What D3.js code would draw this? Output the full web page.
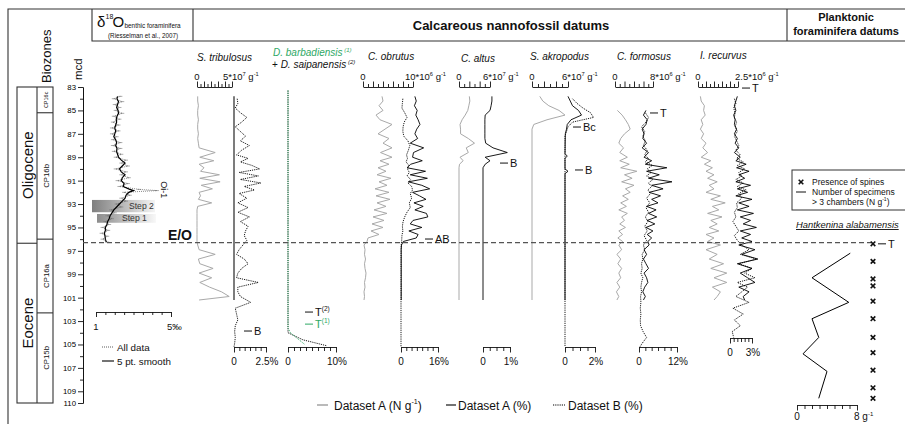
<!DOCTYPE html>
<html lang="en">
<head>
<meta charset="utf-8">
<style>
  body { margin: 0; background: #fff; }
  svg { display: block; background: #fff; }
  .frame { stroke: #333; stroke-width: 1.1; fill: none; }
  .gray { stroke: #a9a9a9; stroke-width: 1; fill: none; }
  .black { stroke: #000; stroke-width: 0.9; fill: none; }
  .dotted { stroke: #000; stroke-width: 0.9; stroke-dasharray: 1.2,1; fill: none; }
  .axis path, .axis line { stroke: #111; stroke-width: 0.9; }
</style>
</head>
<body>
<script src="https://d3js.org/d3.v7.min.js"></script>
<svg id="chart" width="905" height="424"></svg>
<script>
// ---------------- data ----------------
var depthTicks = [83, 85, 87, 89, 91, 93, 95, 97, 99, 101, 103, 105, 107, 109, 110];
var depthMinor = [84, 86, 88, 90, 92, 94, 96, 98, 100, 102, 104, 106, 108];

var epochs = ["Oligocene", "Eocene"];
var epochBounds = [83, 96.35, 110];
var zones = ["CP16c", "CP16b", "CP16a", "CP15b"];
var zoneBounds = [83, 85.2, 96.0, 102.3, 110];
var eoDepth = 96.3;

var stepNames = ["Step 2", "Step 1"];
var stepTop = [92.65, 93.85];
var stepBottom = [93.7, 94.6];

// benthic foraminifera d18O (permil)
var d18Depth = [83.8, 84.0, 84.25, 84.5, 84.75, 85.0, 85.25, 85.5, 85.75, 86.0, 86.25, 86.5, 86.75,
  87.0, 87.25, 87.5, 87.75, 88.0, 88.25, 88.5, 88.75, 89.0, 89.25, 89.5, 89.75, 90.0,
  90.25, 90.5, 90.75, 91.0, 91.25, 91.5, 91.75, 91.85, 92.0, 92.25, 92.5, 92.75, 93.0,
  93.25, 93.5, 93.75, 94.0, 94.25, 94.5, 94.75, 95.0, 95.25, 95.5, 95.75, 96.0, 96.25];
var d18All = [2.3, 1.95, 2.4, 2.0, 2.25, 2.05, 2.4, 1.95, 2.25, 1.9, 2.2, 1.85, 2.2,
  1.85, 2.1, 1.9, 2.3, 1.9, 2.3, 1.95, 2.35, 2.05, 2.6, 2.35, 2.7, 2.05,
  2.6, 2.35, 2.75, 2.15, 2.7, 2.25, 3.3, 4.25, 2.5, 2.8, 2.35, 2.6, 2.1,
  2.35, 1.8, 2.0, 1.6, 1.85, 1.5, 1.7, 1.35, 1.65, 1.3, 1.6, 1.35, 1.6];
var d18Smooth = [2.15, 2.12, 2.2, 2.15, 2.1, 2.18, 2.2, 2.12, 2.08, 2.1, 2.05, 2.0, 2.05,
  2.0, 1.95, 2.05, 2.1, 2.05, 2.12, 2.1, 2.15, 2.2, 2.35, 2.55, 2.4, 2.25,
  2.35, 2.55, 2.4, 2.35, 2.5, 2.45, 2.8, 3.0, 2.75, 2.6, 2.55, 2.4, 2.25,
  2.1, 1.95, 1.85, 1.75, 1.7, 1.62, 1.58, 1.5, 1.5, 1.45, 1.48, 1.5, 1.55];

// nannofossil sample depths (mcd)
var depthA = [83.8, 84.2, 84.6, 85.0, 85.4, 85.8, 86.2, 86.6, 87.0, 87.4, 87.8, 88.2, 88.6,
  89.0, 89.3, 89.6, 89.9, 90.2, 90.5, 90.8, 91.1, 91.4, 91.7, 92.0, 92.3, 92.6, 92.9, 93.2, 93.5,
  93.8, 94.1, 94.4, 94.7, 95.0, 95.3, 95.6, 95.9, 96.2,
  96.5, 96.9, 97.3, 97.7, 98.1, 98.5, 98.9, 99.3, 99.7, 100.1, 100.5, 100.9, 101.2];
var depthB = [84.0, 84.4, 84.8, 85.2, 85.6, 86.0, 86.4, 86.8, 87.2, 87.6, 88.0, 88.4, 88.8,
  89.1, 89.4, 89.7, 90.0, 90.3, 90.6, 90.9, 91.2, 91.5, 91.8,
  92.1, 92.5, 92.9, 93.3, 93.7, 94.1, 94.5, 94.9, 95.3, 95.7, 96.1, 96.5, 96.9, 97.3, 97.7,
  98.1, 98.5, 98.9, 99.3, 99.7, 100.1, 100.5, 100.9,
  101.4, 101.9, 102.4, 102.9, 103.4, 103.9, 104.4, 104.9, 105.2];

var species = ["S. tribulosus", "C. obrutus", "C. altus", "S. akropodus", "C. formosus", "I. recurvus"];
var topMax = [5, 10, 6, 6, 8, 2.5];          // N g-1 scale end
var topUnit = ["5*10", "10*10", "6*10", "6*10", "8*10", "2.5*10"];
var topExp = ["7", "6", "7", "7", "6", "6"];
var pctMax = [2.5, 16, 1, 2, 12, 3];          // % scale end
var pctLabel = ["2.5%", "16%", "1%", "2%", "12%", "3%"];

// S. tribulosus
var tribGray = [0.1, 0.1, 0.2, 0.1, 0.1, 0.2, 0.1, 0.1, 0.2, 0.1, 0.2, 0.3, 2.6,
  0.4, 2.4, 0.3, 1.0, 0.5, 3.2, 0.4, 3.3, 0.6, 2.2, 0.3, 0.5, 0.2, 2.1, 0.1, 0,
  0, 0, 0, 0, 0, 0, 0, 0, 0,
  0.1, 0.3, 2.6, 0.2, 0.4, 2.3, 0.3, 2.1, 0.4, 1.8, 3.5, 4.6, 0.3];
var tribPctDepth = [83.8, 101.2];
var tribPct = [0, 0];
var tribB = [0.25, 0.3, 0.1, 0.5, 1.0, 0.6, 0.1, 0.5, 0.9, 0.5, 1.2, 0.6, 0.2,
  1.1, 0.5, 1.4, 2.0, 0.4, 1.9, 0.5, 2.1, 0.8, 1.6,
  0.4, 1.0, 0.3, 1.1, 0.3, 1.2, 0.5, 1.1, 0.9, 0.8, 1.0, 0.7, 0.4, 0.2, 0.8,
  1.1, 0.6, 0.3, 0.2, 1.9, 0.3, 0.3, 0.5,
  1.3, 0.1, 0.2, 0.3, 0.1, 0.05, 0.1, 0.05, 0];

// D. barbadiensis / D. saipanensis (%)
var barbDepth = [83.3, 103.6, 104.0, 104.5, 105.0];
var barbPct = [0, 0, 0.5, 2.0, 3.5];
var saipDepth = [83.3, 104.0, 104.6, 105.1];
var saipPct = [0, 0, 3.1, 8.0];

// C. obrutus
var obruGray = [3.8, 4.0, 3.2, 4.0, 2.6, 3.4, 5.8, 4.4, 3.0, 5.2, 4.0, 5.8, 3.5,
  5.8, 3.4, 5.2, 3.0, 4.6, 2.8, 5.6, 3.2, 4.8, 2.4, 5.2, 2.6, 5.4, 2.8, 4.6, 2.2,
  4.8, 2.0, 4.2, 1.8, 4.0, 1.6, 3.2, 1.0, 0.8,
  0.2, 0.4, 0.3, 0.5, 0.3, 0.4, 0.6, 0.5, 0.3, 0.4, 0.2, 0.3, 0.2];
var obruPct = [6.0, 6.6, 5.8, 7.0, 6.4, 7.4, 8.2, 6.8, 6.0, 7.2, 4.0, 9.8, 5.4,
  5.0, 9.2, 4.2, 2.6, 10.6, 4.0, 11.4, 3.2, 9.0, 12.4, 5.0, 8.0, 10.8, 5.6, 9.6, 6.0,
  11.0, 11.6, 5.2, 4.0, 9.0, 3.4, 7.4, 6.6, 1.0,
  0.2, 0.1, 0.1, 0.1, 0.1, 0.1, 0.1, 0.1, 0.1, 0.1, 0.1, 0.1, 0.1];
var obruB = [0.8, 0.6, 0.4, 1.6, 2.6, 1.4, 0.9, 0.8, 1.2, 3.0, 3.8, 3.2, 2.4,
  2.8, 2.2, 3.4, 2.8, 3.6, 2.6, 4.2, 3.0, 4.6, 5.0,
  4.0, 4.6, 3.6, 4.0, 2.6, 1.6, 0.9, 0.6, 0.8, 0.4, 0.3, 0.1, 0, 0, 0,
  0, 0, 0, 0, 0, 0, 0, 0,
  0, 0, 0, 0, 0, 0, 0, 0, 0];

// C. altus
var altusDepth = [83.8, 84.2, 84.6, 85.0, 85.4, 85.8, 86.2, 86.6, 87.0, 87.4, 87.8, 88.2, 88.6,
  89.0, 89.3, 89.6, 89.9, 101.2];
var altusGray = [2.0, 2.1, 1.9, 1.7, 1.2, 0.6, 0.2, 0.3, 0.3, 1.8, 3.0, 1.4, 1.8,
  0.2, 0.8, 0.1, 0, 0];
var altusPct = [0.33, 0.33, 0.3, 0.26, 0.08, 0.07, 0.07, 0.07, 0.07, 0.07, 0.1, 0.37, 0.9,
  0.08, 0.26, 0.08, 0, 0];

// S. akropodus
var akroGrayDepth = [83.8, 84.2, 84.6, 85.0, 85.4, 85.8, 86.2, 86.6, 101.2];
var akroGray = [1.3, 1.8, 2.8, 4.5, 5.5, 2.5, 0.3, 0, 0];
var akroPctDepth = [83.8, 84.2, 84.6, 85.0, 85.4, 85.8, 86.2, 86.6, 87.0, 88.7, 88.9, 89.1,
  90.0, 90.2, 90.4, 101.2];
var akroPct = [0.2, 0.35, 0.5, 0.9, 1.1, 0.4, 0.15, 0.1, 0.02, 0, 0.15, 0, 0, 0.2, 0, 0];
var akroBDepth = [84.0, 84.4, 84.8, 85.2, 85.6, 86.0, 86.4, 86.8, 87.2, 105.2];
var akroB = [0.5, 0.8, 1.2, 1.7, 1.9, 0.5, 0.2, 0.1, 0, 0];

// C. formosus
var formGray = [null, null, null, 0.5, 1.5, 2.2, 2.8, 3.2, 2.0, 1.2, 0.8, 1.8, 1.0,
  2.6, 1.0, 3.0, 1.2, 4.6, 2.0, 3.6, 1.4, 4.0, 2.2, 3.2, 1.6, 2.8, 1.2, 2.4, 0.8,
  2.6, 1.4, 2.0, 1.0, 2.2, 0.8, 1.6, 0.6, 1.6,
  0.8, 1.4, 0.4, 1.2, 0.6, 1.4, 0.8, 1.2, 0.4, 1.0, 0.3, 0.8, 0.4];
var formPct = [null, null, null, 2.2, 1.4, 2.6, 2.2, 1.0, 1.6, 1.2, 2.4, 1.0, 3.0,
  1.6, 4.0, 2.0, 8.8, 2.4, 6.4, 3.0, 10.4, 4.0, 7.6, 3.2, 6.8, 4.0, 6.0, 2.4, 5.4,
  3.0, 5.6, 2.6, 5.0, 2.2, 4.4, 2.6, 4.0, 2.8,
  3.2, 1.6, 2.4, 1.4, 2.2, 3.0, 1.6, 2.4, 2.8, 1.8, 1.2, 2.0, 1.4];
var formB = [null, null, null, 2.0, 3.0, 2.2, 0.8, 1.8, 1.2, 2.0, 1.4, 2.6, 1.8,
  3.0, 2.0, 4.2, 2.6, 3.8, 2.4, 4.4, 3.0, 4.0, 2.8,
  3.6, 2.4, 3.4, 2.2, 3.0, 2.0, 2.8, 1.8, 2.6, 1.6, 2.4, 1.4, 1.8, 1.0, 1.2,
  0.8, 1.0, 0.6, 1.2, 0.8, 0.6, 0.8, 0.5,
  0.6, 0.4, 0.6, 0.4, 0.5, 1.3, 2.4, 1.0, 0.3];

// I. recurvus
var recuGray = [0.15, 0.2, 0.4, 0.35, 0.45, 0.2, 0.3, 0.15, 0.35, 0.2, 0.5, 0.3, 0.6,
  0.2, 0.8, 0.4, 0.9, 0.5, 1.0, 0.6, 1.2, 0.7, 1.0, 0.5, 1.4, 0.8, 1.7, 0.9, 1.3,
  0.6, 1.5, 0.8, 1.2, 0.7, 1.3, 0.5, 1.0, 0.6,
  1.4, 0.5, 1.2, 0.7, 1.6, 0.8, 1.8, 1.0, 1.8, 0.9, 1.4, 1.2, 1.0];
var recuPct = [1.0, 0.8, 0.6, 0.8, 0.5, 0.7, 0.6, 0.9, 0.6, 1.0, 0.7, 1.2, 0.6,
  1.4, 0.8, 2.2, 0.9, 2.6, 1.2, 2.0, 0.8, 2.8, 1.0, 2.4, 0.8, 3.0, 1.2, 2.6, 1.0,
  3.2, 1.4, 2.8, 1.8, 3.6, 1.4, 2.8, 1.6, 3.0,
  1.2, 3.4, 1.6, 3.8, 1.0, 3.0, 1.4, 2.4, 3.4, 1.2, 2.6, 1.8, 2.0];
var recuB = [0.6, 0.8, 0.5, 0.7, 0.6, 0.9, 0.7, 1.0, 0.6, 0.9, 1.2, 0.8, 1.4,
  0.9, 1.8, 1.0, 2.0, 1.2, 1.6, 0.8, 1.8, 1.0, 2.2,
  1.2, 1.6, 0.9, 1.0, 0.6, 0.8, 0.4, 0.8, 1.2, 0.6, 1.0, 1.6, 2.6, 1.4, 3.6,
  1.2, 3.0, 2.0, 3.4, 1.0, 2.4, 1.6, 0.8,
  2.6, 0.4, 1.8, 0.6, 1.4, 0.3, 0.5, null, null];

// Hantkenina alabamensis
var spineDepth = [96.4, 97.9, 99.4, 100.0, 101.3, 102.8, 104.4, 105.7, 107.2, 108.7, 109.6];
var hantDepth = [97.2, 99.3, 101.4, 102.8, 104.4, 105.8, 107.3, 109.6];
var hantCount = [7.1, 2.0, 6.9, 2.0, 2.9, 0.8, 4.0, 2.9];

// ---------------- drawing ----------------
var font = '"Liberation Sans", Arial, Helvetica, sans-serif';
var green = "#2ea865";
var svg = d3.select("#chart").attr("font-family", font).attr("fill", "#111");

var y = d3.scaleLinear().domain([83, 110]).range([87, 403]);

function rich(parent, x, yy, parts, size, anchor) {
  var t = parent.append("text").attr("x", x).attr("y", yy).attr("font-size", size)
    .attr("text-anchor", anchor || "start");
  var cur = 0;
  parts.forEach(function (p) {
    if (typeof p === "string") p = { t: p };
    var off = p.sup ? -size * 0.42 : 0;
    var s = t.append("tspan").attr("dy", off - cur).text(p.t);
    if (p.sup) s.attr("font-size", size * 0.6);
    if (p.it) s.attr("font-style", "italic");
    if (p.fill) s.attr("fill", p.fill);
    cur = off;
  });
  return t;
}

function pairs(depths, vals) {
  return depths.map(function (d, i) { return [d, vals[i]]; });
}

function lineFor(xs) {
  return d3.line()
    .defined(function (d) { return d[1] != null; })
    .x(function (d) { return xs(d[1]); })
    .y(function (d) { return y(d[0]); });
}

// frame and header
svg.append("path").attr("class", "frame")
  .attr("d", "M8,424V9H905 M92,9V41H905 M193,9V41 M787,9V41");

var hd = svg.append("g");
hd.append("text").attr("x", 97).attr("y", 27).attr("font-size", 15).text("δ");
hd.append("text").attr("x", 105.5).attr("y", 19).attr("font-size", 7).text("18");
hd.append("text").attr("x", 112.5).attr("y", 27).attr("font-size", 15).text("O");
hd.append("text").attr("x", 124.5).attr("y", 27.5).attr("font-size", 6.4).text("benthic foraminifera");
hd.append("text").attr("x", 143).attr("y", 37.5).attr("font-size", 6.3).attr("text-anchor", "middle")
  .text("(Riesselman et al., 2007)");
hd.append("text").attr("x", 511).attr("y", 30).attr("font-size", 13).attr("font-weight", "bold")
  .attr("text-anchor", "middle").text("Calcareous nannofossil datums");
hd.append("text").attr("x", 846).attr("y", 21).attr("font-size", 11).attr("font-weight", "bold")
  .attr("text-anchor", "middle").text("Planktonic");
hd.append("text").attr("x", 846).attr("y", 35).attr("font-size", 11).attr("font-weight", "bold")
  .attr("text-anchor", "middle").text("foraminifera datums");

// biozones
var bz = svg.append("g");
bz.append("rect").attr("class", "frame").attr("x", 17).attr("y", y(83))
  .attr("width", 36).attr("height", y(110) - y(83));
bz.append("line").attr("class", "frame").attr("x1", 37).attr("x2", 37).attr("y1", y(83)).attr("y2", y(110));
epochBounds.slice(1, -1).forEach(function (d) {
  bz.append("line").attr("class", "frame").attr("x1", 17).attr("x2", 37).attr("y1", y(d)).attr("y2", y(d));
});
zoneBounds.slice(1, -1).forEach(function (d) {
  bz.append("line").attr("class", "frame").attr("x1", 37).attr("x2", 53).attr("y1", y(d)).attr("y2", y(d));
});
epochs.forEach(function (e, i) {
  var c = (y(epochBounds[i]) + y(epochBounds[i + 1])) / 2;
  bz.append("text").attr("transform", "translate(33," + c + ") rotate(-90)")
    .attr("text-anchor", "middle").attr("font-size", 15).text(e);
});
zones.forEach(function (z, i) {
  var c = (y(zoneBounds[i]) + y(zoneBounds[i + 1])) / 2;
  var fs = i === 0 ? 5.5 : 7.8;
  bz.append("text").attr("transform", "translate(" + (i === 0 ? 47.5 : 48.5) + "," + c + ") rotate(-90)")
    .attr("text-anchor", "middle").attr("font-size", fs).text(z);
});
bz.append("text").attr("transform", "translate(51,83) rotate(-90)").attr("font-size", 13).text("Biozones");
bz.append("text").attr("transform", "translate(82,80) rotate(-90)").attr("font-size", 11.5).text("mcd");

// depth axis
var dax = svg.append("g").attr("class", "axis").attr("transform", "translate(83,0)")
  .call(d3.axisLeft(y).tickValues(depthTicks).tickSize(5).tickSizeOuter(0).tickFormat(d3.format("d")));
dax.attr("font-family", font).attr("font-size", 7.8);
dax.selectAll("text").attr("x", -7);
svg.append("g").attr("class", "axis").attr("transform", "translate(83,0)")
  .call(d3.axisLeft(y).tickValues(depthMinor).tickSize(3).tickSizeOuter(0).tickFormat(""));

// d18O panel
var xIso = d3.scaleLinear().domain([1, 5]).range([96, 171]);
var defs = svg.append("defs");
var stepX = [[92, 155], [97, 156]];
var stepShade = [["#7f7f7f", "#f4f4f4"], ["#8c8c8c", "#f8f8f8"]];
stepNames.forEach(function (s, i) {
  var gr = defs.append("linearGradient").attr("id", "step" + i);
  gr.append("stop").attr("offset", "0").attr("stop-color", stepShade[i][0]);
  gr.append("stop").attr("offset", "1").attr("stop-color", stepShade[i][1]);
  svg.append("rect").attr("x", stepX[i][0]).attr("y", y(stepTop[i]))
    .attr("width", stepX[i][1] - stepX[i][0]).attr("height", y(stepBottom[i]) - y(stepTop[i]))
    .attr("fill", "url(#step" + i + ")");
  svg.append("text").attr("x", i === 0 ? 129 : 122).attr("y", (y(stepTop[i]) + y(stepBottom[i])) / 2 + 3)
    .attr("font-size", 8.6).attr("fill", "#333").text(s);
});
var isoAll = pairs(d18Depth, d18All);
svg.append("path").datum(isoAll).attr("d", lineFor(xIso))
  .attr("fill", "none").attr("stroke", "#555").attr("stroke-width", 0.7).attr("stroke-dasharray", "1,1");
svg.append("g").selectAll("line").data(isoAll).enter().append("line")
  .attr("x1", function (d) { return xIso(d[1]) - 2; })
  .attr("x2", function (d) { return xIso(d[1]) + 2; })
  .attr("y1", function (d) { return y(d[0]); }).attr("y2", function (d) { return y(d[0]); })
  .attr("stroke", "#777").attr("stroke-width", 0.6);
svg.append("path").datum(pairs(d18Depth, d18Smooth)).attr("d", lineFor(xIso))
  .attr("fill", "none").attr("stroke", "#000").attr("stroke-width", 1.2);
var iax = svg.append("g").attr("class", "axis").attr("transform", "translate(0,312)")
  .call(d3.axisBottom(xIso).tickValues(d3.range(1, 5.01, 0.5)).tickSize(3).tickSizeOuter(0).tickFormat(""));
iax.selectAll(".tick line").attr("y2", function (d) { return d === 1 || d === 5 ? 5 : 3; });
svg.append("text").attr("x", xIso(1)).attr("y", 330).attr("font-size", 9.5).attr("text-anchor", "middle").text("1");
svg.append("text").attr("x", xIso(5) - 4).attr("y", 330).attr("font-size", 9.5).text("5‰");
svg.append("text").attr("transform", "translate(161," + y(91.05) + ") rotate(90)").attr("font-size", 9).text("Oi-1");
svg.append("line").attr("x1", 102).attr("x2", 114).attr("y1", 347).attr("y2", 347)
  .attr("stroke", "#333").attr("stroke-width", 0.8).attr("stroke-dasharray", "1,1");
svg.append("text").attr("x", 117).attr("y", 350.5).attr("font-size", 9.8).text("All data");
svg.append("line").attr("x1", 102).attr("x2", 114).attr("y1", 361).attr("y2", 361)
  .attr("stroke", "#000").attr("stroke-width", 1.1);
svg.append("text").attr("x", 117).attr("y", 364.5).attr("font-size", 9.8).text("5 pt. smooth");

// nannofossil panels (layout)
var panels = [
  { tx: 197, ty: 61, top: [197, 232, 10], topLabX: 223, bot: [234, 266, 6], botY: 347,
    gray: [depthA, tribGray], black: [tribPctDepth, tribPct], dotted: [depthB, tribB],
    blackStroke: "#6e6e6e", blackWidth: 1.8 },
  { tx: 368, ty: 60, top: [363, 413, 10], topLabX: 405, bot: [401, 438, 7], botY: 347,
    gray: [depthA, obruGray], black: [depthA, obruPct], dotted: [depthB, obruB] },
  { tx: 461, ty: 62, top: [459, 490, 6], topLabX: 483, bot: [483, 510, 4], botY: 347,
    gray: [altusDepth, altusGray], black: [altusDepth, altusPct] },
  { tx: 530, ty: 60, top: [532, 568, 6], topLabX: 562, bot: [565, 595, 4], botY: 347,
    gray: [akroGrayDepth, akroGray], black: [akroPctDepth, akroPct], dotted: [akroBDepth, akroB] },
  { tx: 617, ty: 60, top: [615, 653, 8], topLabX: 650, bot: [639, 677, 6], botY: 347,
    gray: [depthA, formGray], black: [depthA, formPct], dotted: [depthB, formB] },
  { tx: 700, ty: 59, top: [698, 738, 10], topLabX: 735, bot: [730, 752, 6], botY: 338,
    gray: [depthA, recuGray], black: [depthA, recuPct], dotted: [depthB, recuB] }
];

panels.forEach(function (p, i) {
  var g = svg.append("g");
  var xTop = d3.scaleLinear().domain([0, topMax[i]]).range([p.top[0], p.top[1]]);
  var xBot = d3.scaleLinear().domain([0, pctMax[i]]).range([p.bot[0], p.bot[1]]);
  g.append("text").attr("x", p.tx).attr("y", p.ty).attr("font-size", 10)
    .attr("font-style", "italic").text(species[i]);

  var ta = g.append("g").attr("class", "axis").attr("transform", "translate(0,87)")
    .call(d3.axisTop(xTop).tickValues(d3.range(0, p.top[2] + 1).map(function (k) { return topMax[i] * k / p.top[2]; }))
      .tickSize(5).tickSizeOuter(0).tickFormat(""));
  ta.selectAll(".tick line").attr("y2", function (d, k) { return k % 2 ? -3 : -5.5; });
  g.append("text").attr("x", p.top[0]).attr("y", 80).attr("font-size", 9.5).attr("text-anchor", "middle").text("0");
  rich(g, p.topLabX, 80, [topUnit[i], { t: topExp[i], sup: true }, " g", { t: "-1", sup: true }], 9.5);

  var ba = g.append("g").attr("class", "axis").attr("transform", "translate(0," + p.botY + ")")
    .call(d3.axisBottom(xBot).tickValues(d3.range(0, p.bot[2] + 1).map(function (k) { return pctMax[i] * k / p.bot[2]; }))
      .tickSize(4).tickSizeOuter(0).tickFormat(""));
  ba.selectAll(".tick line").attr("y2", function (d, k) { return k === 0 || k === p.bot[2] ? 5.5 : 4; });
  g.append("text").attr("x", p.bot[0]).attr("y", p.botY + 18).attr("font-size", 10).attr("text-anchor", "middle").text("0");
  g.append("text").attr("x", p.bot[1] + 1).attr("y", p.botY + 18).attr("font-size", 10).attr("text-anchor", "middle").text(pctLabel[i]);

  g.append("path").attr("class", "gray").datum(pairs(p.gray[0], p.gray[1])).attr("d", lineFor(xTop));
  if (p.dotted) g.append("path").attr("class", "dotted").datum(pairs(p.dotted[0], p.dotted[1])).attr("d", lineFor(xBot));
  var bl = g.append("path").attr("class", "black").datum(pairs(p.black[0], p.black[1])).attr("d", lineFor(xBot));
  if (p.blackStroke) bl.style("stroke", p.blackStroke).style("stroke-width", p.blackWidth);
});

// D. barbadiensis + D. saipanensis panel
var xBarb = d3.scaleLinear().domain([0, 10]).range([288, 336]);
var gb = svg.append("g");
rich(gb, 273, 56, [{ t: "D. barbadiensis", it: true, fill: green }, { t: " (1)", sup: true, fill: green, it: true }], 10);
rich(gb, 272, 68, ["+ ", { t: "D. saipanensis", it: true }, { t: " (2)", sup: true, it: true }], 10);
var bba = gb.append("g").attr("class", "axis").attr("transform", "translate(0,347)")
  .call(d3.axisBottom(xBarb).tickValues(d3.range(0, 10.01, 1.25)).tickSize(4).tickSizeOuter(0).tickFormat(""));
bba.selectAll(".tick line").attr("y2", function (d) { return d === 0 || d === 10 ? 5.5 : 4; });
gb.append("text").attr("x", 288).attr("y", 365).attr("font-size", 10).attr("text-anchor", "middle").text("0");
gb.append("text").attr("x", 337).attr("y", 365).attr("font-size", 10).attr("text-anchor", "middle").text("10%");
gb.append("path").attr("class", "dotted").datum(pairs(saipDepth, saipPct)).attr("d", lineFor(xBarb));
gb.append("path").attr("class", "dotted").style("stroke", green).datum(pairs(barbDepth, barbPct)).attr("d", lineFor(xBarb));

// E/O boundary
svg.append("line").attr("x1", 83).attr("x2", 872).attr("y1", y(eoDepth)).attr("y2", y(eoDepth))
  .attr("stroke", "#555").attr("stroke-width", 1.1).attr("stroke-dasharray", "5,3");
svg.append("text").attr("x", 192).attr("y", y(eoDepth) - 3).attr("font-size", 14).attr("font-weight", "bold")
  .attr("text-anchor", "end").text("E/O");

// datums
function datum(x, d, label, sup, color) {
  var yy = y(d), c = color || "#111";
  var g = svg.append("g").attr("fill", c);
  g.append("line").attr("x1", x).attr("x2", x + 8).attr("y1", yy).attr("y2", yy).attr("stroke", c).attr("stroke-width", 1);
  rich(g, x + 10, yy + 4, sup ? [label, { t: sup, sup: true }] : [label], 11);
}
datum(244, 103.85, "B");
datum(305, 102.23, "T", "(2)");
datum(305, 103.26, "T", "(1)", green);
datum(425, 95.99, "AB");
datum(500, 89.5, "B");
datum(573, 86.42, "Bc");
datum(575, 90.09, "B");
datum(650, 85.22, "T");
datum(742, 83.09, "T");
datum(878, 96.4, "T");

// planktonic foraminifera
var xHant = d3.scaleLinear().domain([0, 8]).range([797, 857]);
var gp = svg.append("g");
gp.append("rect").attr("x", 792).attr("y", 170).attr("width", 120).attr("height", 40)
  .attr("fill", "#fff").attr("stroke", "#333").attr("stroke-width", 1);
var cross = "M-2.3,-2.3L2.3,2.3M-2.3,2.3L2.3,-2.3";
gp.append("path").attr("d", cross).attr("transform", "translate(801,182)").attr("stroke", "#111").attr("stroke-width", 1.6);
gp.append("text").attr("x", 812).attr("y", 185).attr("font-size", 8.5).text("Presence of spines");
gp.append("line").attr("x1", 796).attr("x2", 806).attr("y1", 192).attr("y2", 192).attr("stroke", "#111");
gp.append("text").attr("x", 812).attr("y", 195).attr("font-size", 8.5).text("Number of specimens");
rich(gp, 812, 205, ["> 3 chambers (N g", { t: "-1", sup: true }, ")"], 8.5);
gp.append("text").attr("x", 796).attr("y", 228).attr("font-size", 9.4).attr("font-style", "italic")
  .attr("text-decoration", "underline").text("Hantkenina alabamensis");
gp.selectAll(".spine").data(spineDepth).enter().append("path").attr("class", "spine")
  .attr("d", cross).attr("transform", function (d) { return "translate(873," + y(d) + ")"; })
  .attr("stroke", "#111").attr("stroke-width", 1.6);
gp.append("path").datum(pairs(hantDepth, hantCount)).attr("d", lineFor(xHant))
  .attr("fill", "none").attr("stroke", "#000").attr("stroke-width", 1);
var hax = gp.append("g").attr("class", "axis").attr("transform", "translate(0,405)")
  .call(d3.axisBottom(xHant).tickValues(d3.range(0, 9)).tickSize(4).tickSizeOuter(0).tickFormat(""));
hax.selectAll(".tick line").attr("y2", function (d) { return d === 0 || d === 8 ? 5.5 : 4; });
gp.append("text").attr("x", 797).attr("y", 420).attr("font-size", 10).attr("text-anchor", "middle").text("0");
rich(gp, 854, 420, ["8 g", { t: "-1", sup: true }], 10);

// bottom legend
var legend = [
  { x: 317, w: 11, tx: 334, cls: "gray", parts: ["Dataset A (N g", { t: "-1", sup: true }, ")"] },
  { x: 446, w: 10, tx: 458, cls: "black", parts: ["Dataset A (%)"] },
  { x: 553, w: 12, tx: 568, cls: "dotted", parts: ["Dataset B (%)"] }
];
legend.forEach(function (l) {
  svg.append("line").attr("class", l.cls).attr("x1", l.x).attr("x2", l.x + l.w).attr("y1", 405).attr("y2", 405)
    .style("stroke-width", l.cls === "gray" ? 1.6 : 1.1);
  rich(svg, l.tx, 409.5, l.parts, 12);
});
</script>
</body>
</html>
